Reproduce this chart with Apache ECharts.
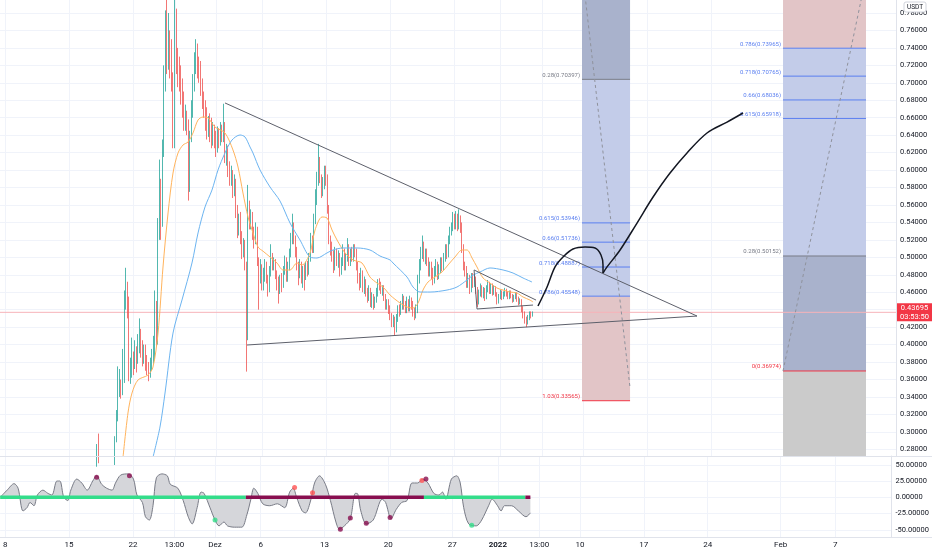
<!DOCTYPE html>
<html><head><meta charset="utf-8">
<script src="https://cdn.jsdelivr.net/npm/echarts@6/dist/echarts.min.js"></script>
<style>html,body{margin:0;padding:0;background:#fff}#c{width:932px;height:550px}</style>
</head><body><div id="c"></div>
<script>
// x unit: days since 2021-11-01 00:00 ; 4-hour candles
const candleStartDay = 16.8333;
const candleStepDay = 1 / 6;
const firstOpen = 0.265;
const closes = [
0.262,0.279,0.268,0.258,0.262,0.255,0.26,0.257,0.263,0.259,
0.262,0.258,0.265,0.291,0.318,0.352,0.357,0.35,0.36,0.455,
0.46,0.45,0.367,0.37,0.385,0.378,0.39,0.383,0.40,0.41,
0.395,0.385,0.39,0.38,0.372,0.368,0.375,0.385,0.388,0.44,
0.405,0.53,0.58,0.54,0.625,0.705,0.743,0.735,0.74,0.725,
0.703,0.631,0.758,0.72,0.715,0.70,0.69,0.675,0.654,0.66,
0.65,0.581,0.64,0.672,0.70,0.722,0.73,0.72,0.715,0.695,
0.68,0.672,0.66,0.645,0.655,0.64,0.635,0.645,0.635,0.628,
0.64,0.632,0.645,0.64,0.648,0.615,0.62,0.60,0.59,0.595,
0.575,0.585,0.55,0.53,0.545,0.52,0.505,0.515,0.49,0.413,
0.558,0.54,0.545,0.53,0.52,0.53,0.495,0.475,0.485,0.47,
0.48,0.49,0.475,0.465,0.485,0.50,0.49,0.495,0.48,0.47,
0.462,0.475,0.468,0.485,0.495,0.478,0.49,0.505,0.52,0.535,
0.52,0.505,0.49,0.48,0.49,0.475,0.485,0.478,0.49,0.485,
0.50,0.52,0.51,0.545,0.57,0.59,0.606,0.59,0.575,0.585,
0.60,0.59,0.555,0.52,0.51,0.50,0.49,0.505,0.495,0.50,
0.485,0.495,0.505,0.49,0.50,0.51,0.495,0.505,0.50,0.51,
0.505,0.49,0.475,0.47,0.48,0.465,0.47,0.46,0.455,0.462,
0.448,0.455,0.445,0.452,0.46,0.47,0.468,0.462,0.465,0.455,
0.445,0.448,0.44,0.432,0.425,0.428,0.418,0.43,0.44,0.438,
0.445,0.452,0.445,0.44,0.448,0.443,0.45,0.445,0.438,0.436,
0.44,0.475,0.49,0.505,0.512,0.50,0.505,0.495,0.485,0.49,
0.48,0.475,0.485,0.49,0.48,0.488,0.495,0.49,0.50,0.51,
0.505,0.52,0.53,0.535,0.543,0.54,0.545,0.538,0.542,0.535,
0.51,0.49,0.485,0.47,0.475,0.465,0.478,0.47,0.475,0.462,
0.45,0.46,0.465,0.458,0.462,0.455,0.465,0.47,0.462,0.468,
0.46,0.465,0.458,0.45,0.455,0.46,0.455,0.458,0.462,0.458,
0.455,0.46,0.456,0.452,0.455,0.458,0.452,0.448,0.45,0.44,
0.435,0.428,0.425,0.43,0.435,0.434,0.437];
const highs = [
0.268,0.286,0.298,0.27,0.266,0.264,0.262,0.263,0.266,0.265,
0.266,0.264,0.27,0.295,0.325,0.375,0.372,0.36,0.395,0.462,
0.488,0.472,0.455,0.385,0.408,0.392,0.405,0.398,0.412,0.43,
0.418,0.405,0.40,0.4,0.388,0.38,0.385,0.395,0.41,0.462,
0.45,0.545,0.612,0.59,0.635,0.72,0.783,0.795,0.78,0.76,
0.75,0.712,0.795,0.785,0.74,0.73,0.72,0.705,0.69,0.675,
0.668,0.658,0.645,0.68,0.71,0.735,0.75,0.745,0.73,0.725,
0.705,0.69,0.68,0.672,0.662,0.665,0.66,0.655,0.652,0.645,
0.65,0.648,0.655,0.652,0.676,0.655,0.63,0.628,0.61,0.605,
0.6,0.595,0.59,0.56,0.55,0.552,0.53,0.522,0.52,0.495,
0.583,0.565,0.555,0.552,0.535,0.54,0.535,0.5,0.498,0.492,
0.488,0.498,0.495,0.48,0.49,0.515,0.505,0.5,0.498,0.485,
0.478,0.48,0.482,0.49,0.502,0.5,0.495,0.51,0.528,0.55,
0.54,0.525,0.512,0.495,0.498,0.495,0.49,0.492,0.495,0.496,
0.505,0.528,0.525,0.55,0.578,0.598,0.63,0.615,0.595,0.592,
0.605,0.605,0.595,0.56,0.525,0.518,0.508,0.512,0.51,0.508,
0.505,0.5,0.515,0.51,0.505,0.522,0.515,0.51,0.512,0.515,
0.515,0.51,0.495,0.482,0.488,0.485,0.478,0.475,0.465,0.468,
0.465,0.46,0.458,0.455,0.465,0.475,0.476,0.472,0.468,0.468,
0.458,0.452,0.452,0.445,0.436,0.434,0.432,0.435,0.445,0.446,
0.45,0.458,0.456,0.45,0.455,0.452,0.456,0.454,0.45,0.442,
0.446,0.48,0.498,0.512,0.525,0.518,0.51,0.51,0.5,0.495,
0.495,0.488,0.49,0.498,0.495,0.492,0.5,0.5,0.505,0.515,
0.515,0.525,0.535,0.54,0.552,0.55,0.553,0.55,0.555,0.548,
0.54,0.515,0.495,0.49,0.482,0.48,0.482,0.482,0.48,0.478,
0.466,0.463,0.47,0.468,0.466,0.465,0.468,0.474,0.472,0.47,
0.47,0.468,0.467,0.46,0.458,0.463,0.462,0.461,0.465,0.464,
0.461,0.462,0.462,0.458,0.457,0.46,0.46,0.455,0.453,0.452,
0.444,0.438,0.432,0.434,0.438,0.438,0.438];
const lows = [
0.258,0.26,0.264,0.254,0.255,0.25,0.253,0.254,0.255,0.256,
0.256,0.255,0.256,0.262,0.288,0.312,0.34,0.338,0.342,0.356,
0.44,0.43,0.358,0.355,0.362,0.365,0.372,0.368,0.378,0.39,
0.385,0.375,0.378,0.37,0.365,0.358,0.362,0.37,0.378,0.382,
0.398,0.4,0.52,0.52,0.535,0.615,0.69,0.71,0.715,0.705,
0.69,0.625,0.625,0.71,0.695,0.69,0.675,0.66,0.645,0.645,
0.64,0.565,0.575,0.632,0.66,0.69,0.71,0.705,0.7,0.685,
0.67,0.66,0.645,0.635,0.638,0.632,0.625,0.628,0.625,0.615,
0.62,0.625,0.628,0.632,0.632,0.608,0.605,0.592,0.582,0.582,
0.568,0.57,0.545,0.522,0.525,0.515,0.498,0.5,0.485,0.369,
0.405,0.532,0.532,0.52,0.51,0.515,0.49,0.44,0.47,0.462,
0.462,0.472,0.47,0.455,0.46,0.478,0.485,0.485,0.475,0.462,
0.447,0.458,0.46,0.465,0.48,0.472,0.472,0.485,0.5,0.515,
0.515,0.5,0.485,0.468,0.476,0.47,0.465,0.462,0.474,0.478,
0.48,0.495,0.505,0.505,0.538,0.56,0.582,0.585,0.568,0.57,
0.578,0.582,0.55,0.515,0.502,0.495,0.482,0.485,0.49,0.488,
0.478,0.48,0.49,0.485,0.485,0.495,0.49,0.49,0.495,0.495,
0.5,0.485,0.47,0.462,0.465,0.46,0.458,0.455,0.448,0.45,
0.443,0.442,0.44,0.442,0.448,0.455,0.462,0.458,0.456,0.45,
0.44,0.44,0.435,0.428,0.42,0.42,0.411,0.414,0.426,0.432,
0.434,0.44,0.44,0.436,0.436,0.438,0.438,0.44,0.432,0.428,
0.43,0.436,0.47,0.485,0.498,0.495,0.492,0.49,0.478,0.478,
0.475,0.468,0.47,0.478,0.474,0.475,0.482,0.484,0.485,0.495,
0.498,0.5,0.515,0.525,0.53,0.532,0.532,0.53,0.532,0.528,
0.505,0.485,0.478,0.465,0.465,0.458,0.46,0.465,0.466,0.458,
0.443,0.446,0.455,0.454,0.453,0.45,0.452,0.46,0.458,0.458,
0.456,0.457,0.455,0.446,0.447,0.452,0.451,0.452,0.455,0.455,
0.452,0.452,0.453,0.448,0.449,0.452,0.449,0.445,0.446,0.437,
0.43,0.424,0.42,0.423,0.428,0.43,0.432];

const maFast = [[19.86,0.271],[20.40,0.3216],[20.84,0.3445],[21.49,0.3594],[22.58,0.3651],[23.13,0.3743],[23.68,0.4132],[24.22,0.4889],[24.77,0.5508],[25.31,0.5966],[25.86,0.6196],[26.40,0.6287],[26.95,0.6322],[27.49,0.6425],[28.04,0.6574],[28.58,0.6608],[29.13,0.6597],[29.89,0.6493],[30.98,0.6425],[31.85,0.623],[32.40,0.6035],[32.94,0.5737],[33.49,0.5462],[33.93,0.5313],[34.58,0.5118],[35.13,0.507],[35.89,0.5004],[36.65,0.4935],[37.31,0.4855],[38.07,0.4855],[38.83,0.4935],[39.38,0.4912],[40.25,0.505],[40.80,0.5313],[41.56,0.5462],[42.10,0.5451],[42.65,0.5313],[43.20,0.5198],[44.07,0.505],[44.94,0.497],[45.92,0.4935],[46.79,0.4774],[47.56,0.4705],[48.21,0.466],[48.98,0.4568],[50.07,0.4476],[50.83,0.443],[51.48,0.4419],[52.03,0.4476],[52.57,0.4625],[53.12,0.4717],[53.88,0.4774],[54.65,0.4832],[55.30,0.4912],[56.06,0.5004],[56.83,0.5084],[57.37,0.5084],[57.92,0.4992],[58.46,0.4889],[59.12,0.4763],[59.88,0.4705],[60.64,0.4648],[61.30,0.4625],[62.06,0.4602],[62.82,0.4591],[63.48,0.4545],[64.24,0.451],[64.57,0.4488]];
const maSlow = [[23.13,0.271],[23.89,0.3055],[24.44,0.3445],[25.31,0.4132],[26.29,0.4511],[27.38,0.4935],[28.04,0.5279],[28.80,0.5577],[29.56,0.5771],[30.22,0.6001],[30.98,0.6196],[31.74,0.6344],[32.62,0.6402],[33.16,0.6379],[33.71,0.6264],[34.03,0.6196],[34.80,0.6001],[35.89,0.5806],[36.98,0.5645],[38.07,0.5393],[39.16,0.5198],[40.25,0.5004],[41.01,0.4992],[42.10,0.505],[42.76,0.5084],[43.85,0.5107],[45.38,0.5107],[46.79,0.5084],[47.88,0.5015],[48.98,0.497],[49.30,0.4935],[50.83,0.4774],[51.48,0.466],[52.25,0.4602],[53.34,0.4602],[55.19,0.4625],[56.28,0.466],[57.37,0.474],[58.03,0.4796],[58.79,0.4832],[59.88,0.4878],[61.30,0.4855],[62.39,0.482],[63.48,0.4763],[64.46,0.4717]];

const xTickDays = [7,14,21,25.54,30,35,42,49,56,61,65.54,70,77,84,92,98];
const xTickLabels = ['8','15','22','13:00','Dez','6','13','20','27','2022','13:00','10','17','24','Feb','7'];
const priceTicks = [0.28,0.30,0.32,0.34,0.36,0.38,0.40,0.42,0.44,0.46,0.48,0.50,0.52,0.54,0.56,0.58,0.60,0.62,0.64,0.66,0.68,0.70,0.72,0.74,0.76,0.78];
const oscTicks = [-50,-25,0,25,50];
const lastPrice = 0.43695;
const countdown = '03:53:50';

const triUpper = [[30.98,0.6769],[82.45,0.4327]];
const triLower = [[33.38,0.3995],[82.45,0.4327]];
const flagUpper = [[58.14,0.4855],[64.90,0.451]];
const flagLower = [[58.46,0.4408],[64.57,0.4453]];
const flagSide = [[58.14,0.4855],[58.46,0.4408]];
const pathUp = [[65.11,0.4442],[66.10,0.466],[66.97,0.489],[67.84,0.5004],[68.93,0.5095],[70.24,0.5118],[71.33,0.5107],[71.98,0.5027],[72.20,0.4912],[72.20,0.482]];
const pathUp2 = [[72.20,0.482],[72.64,0.489],[74.06,0.5084],[75.91,0.5393],[77.66,0.5691],[79.51,0.5966],[81.36,0.6196],[83.54,0.6425],[85.73,0.655],[87.47,0.6654]];

const fib1Span = [69.91, 75.15];
const fib1Ratios = ['0.28','0.615','0.66','0.718','0.786','1.03'];
const fib1Prices = [0.70397,0.53946,0.51736,0.48887,0.45548,0.33565];
const fib1LevelKinds = ['gray','blue','blue','blue','blue','red'];
const fib1ZoneEdges = [0.80,0.70397,0.45548,0.33565];
const fib1ZoneKinds = ['dark','light','red'];
const fib1Diagonal = [[70.24,0.80],[75.15,0.3502]];

const fib2Span = [91.83, 100.88];
const fib2Ratios = ['0.786','0.718','0.66','0.615','0.28','0'];
const fib2Prices = [0.73965,0.70765,0.68036,0.65918,0.50152,0.36974];
const fib2LevelKinds = ['blue','blue','blue','blue','gray','red'];
const fib2ZoneEdges = [0.80,0.73965,0.50152,0.36974,0.26];
const fib2ZoneKinds = ['red','light','dark','gray'];
const fib2Diagonal = [[91.83,0.36974],[100.45,0.80]];

const oscLine = [[6.445,0],[7.21,11],[7.97,21],[8.41,14],[8.95,-21],[9.39,-16],[9.72,-8],[10.15,-13],[10.53,3.5],[11.13,11],[11.68,6],[12.12,3.5],[12.66,25],[12.99,25],[13.42,0],[13.86,-5],[14.19,11],[14.84,28],[15.39,22],[15.99,11],[16.59,25],[17.02,33],[17.57,20],[18.11,14],[18.71,11],[19.09,22],[19.64,34],[20.47,36],[21.06,28],[21.44,3.5],[22.04,-8],[22.37,-30],[22.80,-35],[23.20,-13],[23.57,30],[24.17,36],[24.77,33],[25.09,20],[25.92,14],[26.51,-5],[27.06,-30],[27.49,-41],[28.04,-16],[28.47,8],[28.80,6],[29.45,-16],[30.00,-35],[30.44,-44],[30.98,-38],[31.37,-44],[32.15,-46],[32.94,-46],[33.49,-27],[33.93,-3],[34.25,14],[34.69,6],[35.23,-10],[36.00,-13],[36.83,-10],[37.63,-16],[38.18,8],[38.57,14],[38.94,0],[39.55,-21],[39.92,-24],[40.52,-3],[40.91,22],[41.45,33],[42.10,20],[42.65,-5],[43.25,-38],[43.63,-49],[44.18,-44],[44.83,-33],[45.38,6],[45.59,6],[45.98,-21],[46.58,-41],[47.34,-35],[48.32,-3],[48.70,-8],[49.30,-33],[49.85,-19],[50.46,-8],[51.05,-5],[51.59,22],[52.20,22],[52.79,28],[53.34,22],[53.99,6],[54.54,3.5],[54.93,8],[55.30,-3],[55.91,28],[56.50,33],[56.88,22],[57.26,-16],[57.81,-41],[58.64,-44],[59.23,-35],[59.99,-13],[60.38,-3],[60.97,-13],[61.36,-21],[61.73,-13],[62.50,-13],[63.26,-21],[64.09,-30],[64.57,-24]];
const oscStateEdges = [6.445,33.38,52.9,64.02,64.57];
const oscStates = ['bull','bear','bull','bear'];
const oscDots = [[17.02,31,'bear'],[20.62,33,'bear'],[30.00,-35,'bull'],[38.72,15,'sell'],[40.69,7,'sell'],[43.74,-49,'bear'],[44.83,-32,'bear'],[46.58,-40,'bear'],[49.19,-31,'bear'],[52.68,26,'sell'],[53.12,28,'bear'],[58.14,-43,'bull']];

// ---------- styling ----------
const FONT = 'Roboto, "Liberation Sans", sans-serif';
const TXT = '#131722';
const GRIDC = '#f0f3fa';
const ZONE_FILL = {dark:'#a9b2cc', light:'#c3cce9', red:'#e2c5c7', gray:'#cbcbcb'};
const LEVEL_COL = {gray:'#787b86', blue:'#5a7ff0', red:'#f23645'};
const STATE_COL = {bull:'#33dd8a', bear:'#880e4f', sell:'#ff5252'};
const X_MIN = 6.445, X_MAX = 104.15, P_MIN = 0.2723, P_MAX = 0.7949, O_MIN = -61.1, O_MAX = 63.5;

const candleData = closes.map((c, i) => {
  const o = i === 0 ? firstOpen : closes[i - 1];
  return [candleStartDay + i * candleStepDay, o, c, Math.min(lows[i], o, c), Math.max(highs[i], o, c)];
});

const zoneData = [];
const zoneKindList = [];
fib1ZoneKinds.forEach((k, i) => { zoneData.push([fib1Span[0], fib1Span[1], fib1ZoneEdges[i], fib1ZoneEdges[i + 1]]); zoneKindList.push(k); });
fib2ZoneKinds.forEach((k, i) => { zoneData.push([fib2Span[0], fib2Span[1], fib2ZoneEdges[i], fib2ZoneEdges[i + 1]]); zoneKindList.push(k); });

const levelData = [], levelKindList = [], levelTexts = [];
fib1Prices.forEach((p, i) => { levelData.push([fib1Span[0], fib1Span[1], p]); levelKindList.push(fib1LevelKinds[i]); levelTexts.push(fib1Ratios[i] + '(' + p.toFixed(5) + ')'); });
fib2Prices.forEach((p, i) => { levelData.push([fib2Span[0], fib2Span[1], p]); levelKindList.push(fib2LevelKinds[i]); levelTexts.push(fib2Ratios[i] + '(' + p.toFixed(5) + ')'); });

function zoneItem(params, api) {
  const a = api.coord([api.value(0), api.value(2)]);
  const b = api.coord([api.value(1), api.value(3)]);
  return {type: 'rect', shape: {x: a[0], y: a[1], width: b[0] - a[0], height: b[1] - a[1]},
          style: {fill: ZONE_FILL[zoneKindList[params.dataIndex]]}};
}
function levelItem(params, api) {
  const a = api.coord([api.value(0), api.value(2)]);
  const b = api.coord([api.value(1), api.value(2)]);
  const col = LEVEL_COL[levelKindList[params.dataIndex]];
  return {type: 'group', children: [
    {type: 'line', shape: {x1: a[0], y1: a[1], x2: b[0], y2: b[1]}, style: {stroke: col, lineWidth: 1}},
    {type: 'text', x: a[0] - 2, y: a[1] - 4, style: {text: levelTexts[params.dataIndex], fill: col,
      fontSize: 6, fontFamily: FONT, align: 'right', verticalAlign: 'middle'}}
  ]};
}
function priceLineItem(params, api) {
  const a = api.coord([X_MIN, api.value(0)]);
  const b = api.coord([X_MAX, api.value(0)]);
  return {type: 'group', children: [
    {type: 'line', shape: {x1: a[0], y1: a[1], x2: b[0], y2: b[1]}, style: {stroke: '#f7b3b9', lineWidth: 1}},
    {type: 'rect', shape: {x: b[0] + 1, y: a[1] - 9, width: 35, height: 18}, style: {fill: '#f23645'}},
    {type: 'text', x: b[0] + 18.5, y: a[1] - 4.3, style: {text: lastPrice.toFixed(5), fill: '#ffffff', fontSize: 7.5, fontFamily: FONT, align: 'center', verticalAlign: 'middle'}},
    {type: 'text', x: b[0] + 18.5, y: a[1] + 4.3, style: {text: countdown, fill: '#ffffff', fontSize: 7.5, fontFamily: FONT, align: 'center', verticalAlign: 'middle'}}
  ]};
}

function simpleLine(data, color, width, extra) {
  return Object.assign({type: 'line', xAxisIndex: 0, yAxisIndex: 0, data: data, symbol: 'none',
    lineStyle: {color: color, width: width}, silent: true, animation: false, z: 4}, extra || {});
}

const oscBars = oscStates.map((s, i) => ({
  type: 'line', xAxisIndex: 1, yAxisIndex: 1, symbol: 'none', silent: true, z: 5,
  data: [[oscStateEdges[i], 0], [oscStateEdges[i + 1], 0]],
  lineStyle: {color: STATE_COL[s], width: 3.5, cap: 'butt'}
}));

const xLabelFmt = v => {
  const k = xTickDays.findIndex(d => Math.abs(d - v) < 1e-6);
  if (k < 0) return '';
  return xTickLabels[k] === '2022' ? '{b|2022}' : xTickLabels[k];
};

const chart = echarts.init(document.getElementById('c'));
chart.setOption({
  animation: false,
  backgroundColor: '#ffffff',
  textStyle: {fontFamily: FONT},
  grid: [
    {left: 0, right: 36, top: 0, height: 456},
    {left: 0, right: 36, top: 456, height: 81}
  ],
  xAxis: [
    {type: 'value', gridIndex: 0, min: X_MIN, max: X_MAX,
     axisLine: {show: false}, axisTick: {show: false, customValues: xTickDays},
     axisLabel: {show: false, customValues: xTickDays},
     splitLine: {show: true, lineStyle: {color: GRIDC, width: 1}}},
    {type: 'value', gridIndex: 1, min: X_MIN, max: X_MAX,
     axisLine: {show: true, onZero: false, lineStyle: {color: '#e0e3eb'}},
     axisTick: {show: false, customValues: xTickDays},
     axisLabel: {show: true, customValues: xTickDays, formatter: xLabelFmt, color: TXT, fontSize: 8, margin: 4,
                 rich: {b: {fontWeight: 'bold', fontSize: 8, color: TXT}}},
     splitLine: {show: true, lineStyle: {color: GRIDC, width: 1}}}
  ],
  yAxis: [
    {type: 'value', gridIndex: 0, position: 'right', min: P_MIN, max: P_MAX,
     axisLine: {show: true, lineStyle: {color: '#e0e3eb'}}, axisTick: {show: false, customValues: priceTicks},
     axisLabel: {customValues: priceTicks, formatter: v => v.toFixed(5), color: TXT, fontSize: 7.5, margin: 4},
     splitLine: {show: true, lineStyle: {color: GRIDC}}},
    {type: 'value', gridIndex: 1, position: 'right', min: O_MIN, max: O_MAX,
     axisLine: {show: true, lineStyle: {color: '#e0e3eb'}}, axisTick: {show: false, customValues: oscTicks},
     axisLabel: {customValues: oscTicks, formatter: v => v.toFixed(5), color: TXT, fontSize: 7.5, margin: 4},
     splitLine: {show: true, lineStyle: {color: GRIDC}}}
  ],
  series: [
    {type: 'custom', xAxisIndex: 0, yAxisIndex: 0, renderItem: zoneItem, data: zoneData, silent: true, z: 1, clip: true},
    {type: 'custom', xAxisIndex: 0, yAxisIndex: 0, renderItem: priceLineItem, data: [[lastPrice]], silent: true, z: 2, clip: false},
    {type: 'custom', xAxisIndex: 0, yAxisIndex: 0, renderItem: levelItem, data: levelData, silent: true, z: 2, clip: false},
    simpleLine(fib1Diagonal, '#8f929c', 1, {lineStyle: {color: '#8f929c', width: 1, type: [3, 3]}, z: 3}),
    simpleLine(fib2Diagonal, '#8f929c', 1, {lineStyle: {color: '#8f929c', width: 1, type: [3, 3]}, z: 3}),
    {type: 'candlestick', xAxisIndex: 0, yAxisIndex: 0, data: candleData,
     dimensions: ['day', 'open', 'close', 'lowest', 'highest'], encode: {x: 0, y: [1, 2, 3, 4]},
     barWidth: 0.7, clip: true, z: 3,
     itemStyle: {color: '#26a69a', color0: '#ef5350', borderColor: '#26a69a', borderColor0: '#ef5350', borderWidth: 0.8}},
    simpleLine(maFast, '#ffb35c', 1, {smooth: 0.3}),
    simpleLine(maSlow, '#6cb4f0', 1, {smooth: 0.3}),
    simpleLine(triUpper, '#5d606b', 1),
    simpleLine(triLower, '#5d606b', 1),
    simpleLine(flagUpper, '#5d606b', 1),
    simpleLine(flagLower, '#5d606b', 1),
    simpleLine(flagSide, '#5d606b', 1),
    simpleLine(pathUp, '#131722', 1.5, {smooth: 0.35, z: 6}),
    simpleLine(pathUp2, '#131722', 1.5, {smooth: 0.35, z: 6}),
    {type: 'line', xAxisIndex: 1, yAxisIndex: 1, data: oscLine, symbol: 'none', smooth: 0.3, silent: true, z: 3,
     lineStyle: {color: '#787b86', width: 1}, areaStyle: {color: '#d5d6da', opacity: 1, origin: 'auto'}},
    ...oscBars,
    {type: 'scatter', xAxisIndex: 1, yAxisIndex: 1, silent: true, z: 7, symbolSize: 5,
     data: oscDots.map(d => ({value: [d[0], d[1]], itemStyle: {color: STATE_COL[d[2]]}}))}
  ],
  graphic: [
    {type: 'line', shape: {x1: 0, y1: 456.5, x2: 932, y2: 456.5}, style: {stroke: '#e0e3eb', lineWidth: 1}, z: 10},
    {type: 'line', shape: {x1: 0, y1: 537.5, x2: 932, y2: 537.5}, style: {stroke: '#e0e3eb', lineWidth: 1}, z: 10},
    {type: 'rect', shape: {x: 904, y: 2, width: 22, height: 10, r: 2}, style: {fill: '#fff', stroke: '#d1d4dc', lineWidth: 1}, z: 10},
    {type: 'text', x: 915, y: 7, style: {text: 'USDT', fill: TXT, fontSize: 6.5, fontFamily: FONT, align: 'center', verticalAlign: 'middle'}, z: 11}
  ]
});
</script></body></html>
